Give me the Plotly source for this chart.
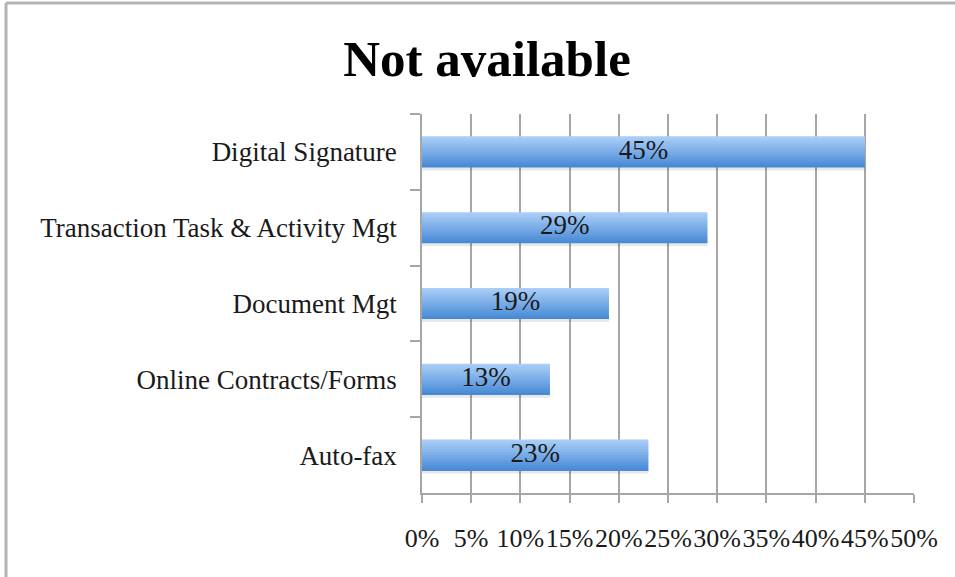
import plotly.graph_objects as go

categories = ["Digital Signature", "Transaction Task & Activity Mgt", "Document Mgt",
              "Online Contracts/Forms", "Auto-fax"]
values = [45, 29, 19, 13, 23]  # percent
tick_vals = [0, 5, 10, 15, 20, 25, 30, 35, 40, 45, 50]
tick_text = [f"{t}%" for t in tick_vals]
title_text = "Not available"

FONT = "Liberation Serif"
W, H = 955, 577
L, R, T, B = 422, 41, 114, 84

def lerp(c1, c2, t):
    return "rgb(%d,%d,%d)" % tuple(round(a + (b - a) * t) for a, b in zip(c1, c2))

top_c = (170, 206, 247)
bot_c = (72, 138, 214)

fig = go.Figure()

bar_w = 0.41
n = 20
sw = bar_w / n
# subtle shadow
fig.add_trace(go.Bar(
    x=values, y=categories, orientation="h",
    width=0.05, offset=bar_w / 2 - 0.01,
    marker=dict(color="rgba(0,0,0,0.09)", line=dict(width=0)),
    hoverinfo="skip", showlegend=False))
for i in range(n):
    fig.add_trace(go.Bar(
        x=values, y=categories, orientation="h",
        width=sw * (1.6 if i < n - 1 else 1.0), offset=-bar_w / 2 + i * sw,
        marker=dict(color=lerp(top_c, bot_c, i / (n - 1)), line=dict(width=0)),
        hoverinfo="skip", showlegend=False))

fig.add_trace(go.Scatter(
    x=[v / 2 for v in values], y=categories, mode="text",
    text=[f"{v}%" for v in values],
    textfont=dict(family=FONT, size=27, color="#1a1a1a"),
    textposition="middle center", showlegend=False, hoverinfo="skip"))

axis_grey = "#a6a6a6"
fig.update_layout(
    width=W, height=H,
    margin=dict(l=L, r=R, t=T, b=B, pad=0, autoexpand=False),
    paper_bgcolor="white", plot_bgcolor="white",
    barmode="overlay",
    showlegend=False,
    title=dict(text=f"<b>{title_text}</b>", x=487 / W, xref="container", xanchor="center",
               y=1 - 58 / H, yref="container", yanchor="middle",
               font=dict(family=FONT, size=51, color="black")),
    xaxis=dict(range=[0, 50], tickvals=tick_vals, ticktext=tick_text, tickangle=0,
               automargin=False,
               showgrid=True, gridcolor=axis_grey, gridwidth=1.5,
               showline=True, linecolor=axis_grey, linewidth=1.5,
               ticks="outside", ticklen=8, tickcolor=axis_grey, tickwidth=1.5,
               tickfont=dict(family=FONT, size=26, color="#1a1a1a"),
               ticklabelstandoff=13, zeroline=False, fixedrange=True),
    yaxis=dict(categoryorder="array", categoryarray=categories, autorange="reversed",
               automargin=False,
               showgrid=False, showline=True, linecolor=axis_grey, linewidth=1.5,
               ticks="outside", ticklen=10, tickcolor=axis_grey, tickwidth=1.5,
               tickson="boundaries",
               tickfont=dict(family=FONT, size=27, color="#1a1a1a"),
               ticklabelstandoff=18, fixedrange=True),
)

# outer frame (top and left edges visible in the reference)
pw = W - L - R
ph = H - T - B
def px_to_paper_x(px):
    return (px - L) / pw
def py_to_paper_y(py):
    return (H - B - py) / ph
fig.add_shape(type="line", xref="paper", yref="paper",
              x0=px_to_paper_x(6), x1=px_to_paper_x(W + 5),
              y0=py_to_paper_y(3), y1=py_to_paper_y(3),
              line=dict(color="#b3b3b3", width=3))
fig.add_shape(type="line", xref="paper", yref="paper",
              x0=px_to_paper_x(6), x1=px_to_paper_x(6),
              y0=py_to_paper_y(3), y1=py_to_paper_y(H + 5),
              line=dict(color="#b3b3b3", width=3))

fig.write_html("out.html", config={"displayModeBar": False},
               post_script="document.body.style.margin='0';document.body.style.overflow='hidden';")
